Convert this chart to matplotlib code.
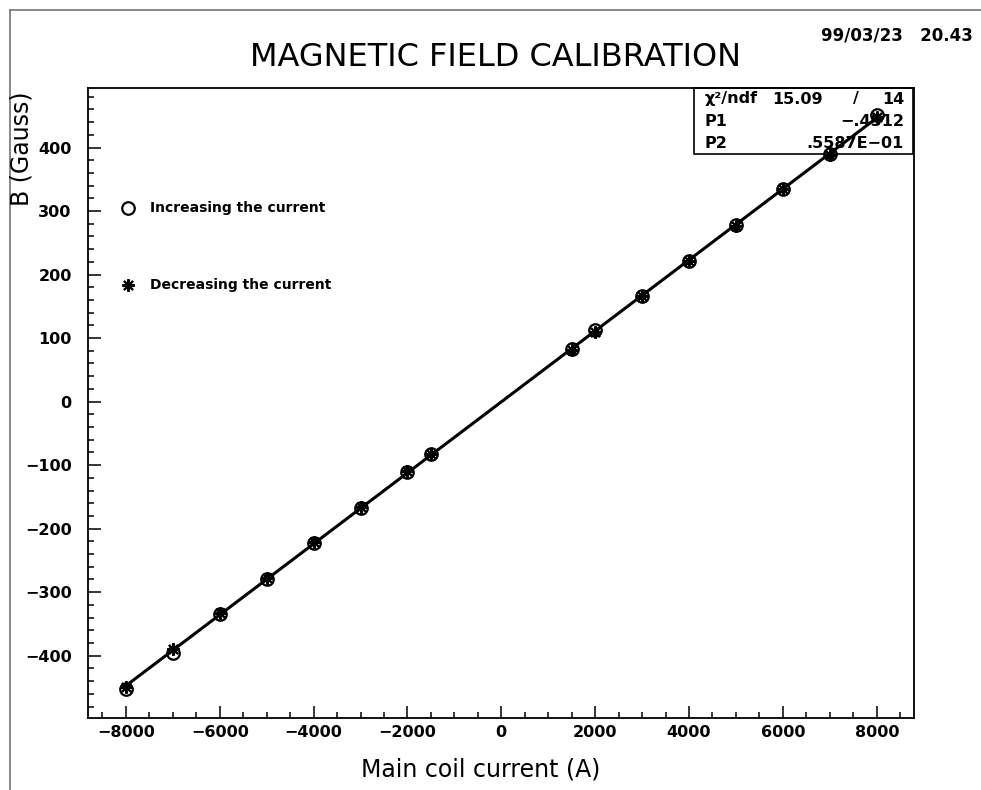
import matplotlib
matplotlib.use("Agg")
import matplotlib.pyplot as plt
from matplotlib.lines import Line2D
from matplotlib.patches import Rectangle
from matplotlib.ticker import MultipleLocator
import numpy as np

# ---- data ----
current = [-8000, -7000, -6000, -5000, -4000, -3000, -2000, -1500,
           1500, 2000, 3000, 4000, 5000, 6000, 7000, 8000]
b_increasing = [-453, -395, -334, -279, -223, -167, -111, -83,
                83, 112, 167, 222, 278, 335, 390, 451]
b_decreasing = [-449, -390, -333, -278, -221, -166, -110, -82,
                82, 110, 166, 221, 276, 334, 388, 448]
fit_p1 = -0.4312
fit_p2 = 0.5587e-01
fit_range = [-8000, 8000]
chi2, ndf = 15.09, 14

title = "MAGNETIC FIELD CALIBRATION"
xlabel = "Main coil current (A)"
ylabel = "B (Gauss)"
datestamp = "99/03/23   20.43"
legend_labels = ["Increasing the current", "Decreasing the current"]

plt.rcParams['font.family'] = ['DejaVu Sans']

W, H = 981, 790
fig = plt.figure(figsize=(W / 100, H / 100), dpi=100)
fx_ = lambda px: px / W
fy_ = lambda py: 1 - py / H

# outer frame lines (top and left)
fig.add_artist(Line2D([fx_(10), 1.0], [fy_(10), fy_(10)], color='0.45', lw=1.2))
fig.add_artist(Line2D([fx_(10), fx_(10)], [0, fy_(10)], color='0.45', lw=1.2))

ax = fig.add_axes([fx_(88.3), fy_(717.7), (914.3 - 88.3) / W, (717.7 - 88.3) / H])
ax.set_xlim(-8800, 8800)
ax.set_ylim(-497.6, 493.2)

# fit line
fx = np.array(fit_range, dtype=float)
ax.plot(fx, fit_p1 + fit_p2 * fx, color='black', lw=2.2, zorder=3)

star = (8, 2, 0)
ax.plot(current, b_increasing, linestyle='none', marker='o', markersize=9,
        markerfacecolor='none', markeredgecolor='black', markeredgewidth=1.6, zorder=4)
ax.plot(current, b_decreasing, linestyle='none', marker=star, markersize=9,
        markeredgecolor='black', markeredgewidth=1.5, zorder=4)

for sp in ax.spines.values():
    sp.set_linewidth(1.3)

ax.xaxis.set_major_locator(MultipleLocator(2000))
ax.xaxis.set_minor_locator(MultipleLocator(500))
ax.yaxis.set_major_locator(MultipleLocator(100))
ax.yaxis.set_minor_locator(MultipleLocator(20))
ax.tick_params(which='both', direction='in', top=False, right=False, width=1.1)
ax.tick_params(which='major', length=9)
ax.tick_params(which='minor', length=4.5)
ax.tick_params(axis='x', which='major', pad=5, labelsize=11.5)
ax.tick_params(axis='y', which='major', pad=12, labelsize=11.5)

fmt = lambda v, p: ("\u2212" if v < 0 else "") + "%d" % abs(v)
ax.xaxis.set_major_formatter(plt.FuncFormatter(fmt))
ax.yaxis.set_major_formatter(plt.FuncFormatter(fmt))
for lab in ax.get_xticklabels() + ax.get_yticklabels():
    lab.set_fontweight('bold')

fig.text(fx_(481), fy_(770), xlabel, fontsize=17, ha='center', va='center')
fig.text(fx_(22), fy_(149), ylabel, fontsize=17, ha='center', va='center', rotation=90)

fig.text(fx_(495), fy_(57), title, fontsize=23, ha='center', va='center')
fig.text(fx_(973), fy_(36), datestamp, fontsize=12, fontweight='bold', ha='right', va='center')

# legend-like annotations
lx, ltx = fx_(128), fx_(150)
fig.add_artist(Line2D([lx], [fy_(208)], marker='o', markersize=9, markerfacecolor='none',
                      markeredgecolor='black', markeredgewidth=1.6, linestyle='none'))
fig.text(ltx, fy_(208), legend_labels[0], fontsize=10, fontweight='bold', va='center')
fig.add_artist(Line2D([lx], [fy_(285)], marker=star, markersize=9,
                      markeredgecolor='black', markeredgewidth=1.5, linestyle='none'))
fig.text(ltx, fy_(285), legend_labels[1], fontsize=10, fontweight='bold', va='center')

# stats box
fig.add_artist(Rectangle((fx_(694), fy_(154)), (913 - 694) / W, (154 - 88) / H,
                         facecolor='white', edgecolor='black', lw=1.2, zorder=0.5))
rows = [fy_(99), fy_(121), fy_(143)]
sfs = 11.5
kw = dict(fontsize=sfs, fontweight='bold', va='center', zorder=1)
fig.text(fx_(705), rows[0], "\u03c7\u00b2/ndf", **kw)
fig.text(fx_(823), rows[0], "%.2f" % chi2, ha='right', **kw)
fig.text(fx_(856), rows[0], "/", ha='center', **kw)
fig.text(fx_(904), rows[0], "%d" % ndf, ha='right', **kw)
fig.text(fx_(705), rows[1], "P1", **kw)
fig.text(fx_(904), rows[1], "\u2212.4312", ha='right', **kw)
fig.text(fx_(705), rows[2], "P2", **kw)
fig.text(fx_(904), rows[2], ".5587E\u221201", ha='right', **kw)

ax.set_zorder(2)
ax.patch.set_alpha(0)

fig.savefig("out.png", dpi=100)
